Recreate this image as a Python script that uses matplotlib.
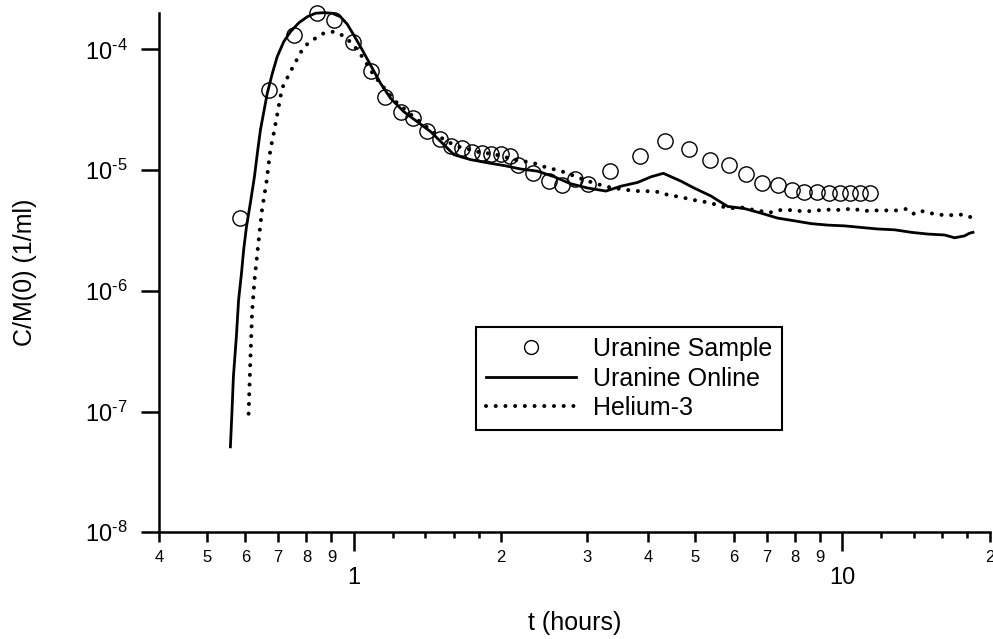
import matplotlib
matplotlib.use('Agg')
import matplotlib.pyplot as plt
from matplotlib.ticker import FixedLocator, FixedFormatter, NullLocator
from matplotlib.lines import Line2D

plt.rcParams['font.family'] = ['Liberation Sans', 'DejaVu Sans']
plt.rcParams['mathtext.fontset'] = 'custom'
plt.rcParams['mathtext.rm'] = 'Liberation Sans'
plt.rcParams['mathtext.it'] = 'Liberation Sans:italic'

# Uranine Sample (open circles)
sample_t = [0.584, 0.672, 0.755, 0.840, 0.910, 0.995, 1.082, 1.161, 1.251, 1.323,
            1.413, 1.50, 1.584, 1.663, 1.748, 1.833, 1.912, 1.998, 2.087, 2.168,
            2.331, 2.51, 2.668, 2.83, 3.01, 3.34, 3.85, 4.33, 4.86, 5.35,
            5.87, 6.35, 6.85, 7.37, 7.89, 8.36, 8.87, 9.38, 9.89, 10.37,
            10.87, 11.39]
sample_c = [4.0e-6, 4.6e-5, 1.31e-4, 2.01e-4, 1.76e-4, 1.14e-4, 6.6e-5, 4.0e-5, 3.0e-5, 2.7e-5,
            2.1e-5, 1.81e-5, 1.59e-5, 1.52e-5, 1.40e-5, 1.39e-5, 1.37e-5, 1.37e-5, 1.30e-5, 1.10e-5,
            9.5e-6, 8.1e-6, 7.5e-6, 8.5e-6, 7.7e-6, 9.8e-6, 1.30e-5, 1.74e-5, 1.50e-5, 1.22e-5,
            1.11e-5, 9.2e-6, 7.8e-6, 7.45e-6, 6.9e-6, 6.56e-6, 6.56e-6, 6.4e-6, 6.4e-6, 6.4e-6,
            6.4e-6, 6.4e-6]

# Uranine Online (solid line)
online_t = [0.559, 0.563, 0.567, 0.575, 0.581, 0.589, 0.595, 0.603, 0.614, 0.626,
            0.636, 0.644, 0.665, 0.681, 0.697, 0.719, 0.742, 0.772, 0.803, 0.835,
            0.868, 0.903, 0.939, 0.969, 1.0, 1.032, 1.082, 1.134, 1.189, 1.266,
            1.349, 1.436, 1.50, 1.603, 1.734, 1.876, 2.03, 2.196, 2.376, 2.57,
            2.78, 3.01, 3.28, 3.52, 3.81, 4.06, 4.30, 4.67, 4.97, 5.38,
            5.82, 6.30, 6.81, 7.37, 7.97, 8.63, 9.33, 10.1, 10.9, 11.82,
            12.79, 13.83, 14.96, 16.18, 16.97, 17.78, 18.2, 18.5]
online_c = [5.1e-8, 9.7e-8, 1.95e-7, 4.2e-7, 8.4e-7, 1.40e-6, 2.18e-6, 3.4e-6, 5.3e-6, 8.8e-6,
            1.47e-5, 2.15e-5, 4.32e-5, 6.3e-5, 8.7e-5, 1.16e-4, 1.40e-4, 1.66e-4, 1.86e-4, 1.99e-4,
            2.01e-4, 1.99e-4, 1.86e-4, 1.62e-4, 1.31e-4, 1.05e-4, 7.41e-5, 5.23e-5, 3.93e-5, 3.04e-5,
            2.51e-5, 2.08e-5, 1.75e-5, 1.34e-5, 1.22e-5, 1.15e-5, 1.09e-5, 1.02e-5, 9.8e-6, 8.8e-6,
            7.7e-6, 7.1e-6, 6.7e-6, 7.35e-6, 7.9e-6, 8.8e-6, 9.4e-6, 8.1e-6, 7.1e-6, 6.1e-6,
            5.0e-6, 4.8e-6, 4.4e-6, 4.0e-6, 3.8e-6, 3.6e-6, 3.5e-6, 3.45e-6, 3.35e-6, 3.25e-6,
            3.2e-6, 3.05e-6, 2.95e-6, 2.9e-6, 2.75e-6, 2.85e-6, 3.0e-6, 3.05e-6]

# Helium-3 (dotted)
helium_t = [0.609, 0.614, 0.619, 0.626, 0.639, 0.649, 0.663, 0.675, 0.686, 0.713,
            0.748, 0.790, 0.828, 0.868, 0.910, 0.954, 1.0, 1.04, 1.099, 1.208,
            1.327, 1.493, 1.573, 1.649, 1.729, 1.812, 1.90, 1.991, 2.068, 2.162,
            2.266, 2.376, 2.49, 2.618, 2.745, 2.877, 3.017, 3.177, 3.332, 3.49,
            3.66, 3.85, 4.04, 4.24, 4.42, 4.66, 4.88, 5.12, 5.36, 5.62,
            5.90, 6.18, 6.50, 6.81, 7.09, 7.37, 7.67, 7.97, 8.36, 8.76,
            9.18, 9.51, 9.94, 10.5, 11.01, 11.45, 11.91, 12.39, 12.99, 13.57,
            14.05, 14.61, 15.2, 15.81, 16.44, 17.1, 17.78, 18.5]
helium_c = [9.6e-8, 2.57e-7, 6.6e-7, 1.21e-6, 2.67e-6, 4.72e-6, 8.1e-6, 1.48e-5, 2.03e-5, 4.76e-5,
            6.97e-5, 1.05e-4, 1.21e-4, 1.36e-4, 1.40e-4, 1.29e-4, 1.08e-4, 8.7e-5, 6.1e-5, 3.8e-5,
            2.75e-5, 1.9e-5, 1.68e-5, 1.55e-5, 1.48e-5, 1.40e-5, 1.37e-5, 1.32e-5, 1.26e-5, 1.20e-5,
            1.17e-5, 1.12e-5, 1.04e-5, 1.0e-5, 9.36e-6, 8.67e-6, 8.09e-6, 7.59e-6, 7.21e-6, 7.0e-6,
            6.81e-6, 6.68e-6, 6.68e-6, 6.56e-6, 6.16e-6, 6.01e-6, 5.71e-6, 5.53e-6, 5.36e-6, 5.03e-6,
            4.81e-6, 4.93e-6, 4.72e-6, 4.57e-6, 4.43e-6, 4.66e-6, 4.66e-6, 4.66e-6, 4.52e-6, 4.63e-6,
            4.66e-6, 4.72e-6, 4.66e-6, 4.81e-6, 4.57e-6, 4.63e-6, 4.63e-6, 4.63e-6, 4.63e-6, 4.78e-6,
            4.3e-6, 4.57e-6, 4.38e-6, 4.27e-6, 4.21e-6, 4.27e-6, 4.27e-6, 4.0e-6]

# tick positions / labels
x_major = [1, 10]
x_major_labels = ['1', '10']
x_minor = [0.4, 0.5, 0.6, 0.7, 0.8, 0.9, 2, 3, 4, 5, 6, 7, 8, 9, 20]
x_minor_labels = ['4', '5', '6', '7', '8', '9', '2', '3', '4', '5', '6', '7', '8', '9', '2']
x_short = [1.2, 1.4, 1.6, 1.8, 12, 14, 16, 18]
y_ticks = [1e-8, 1e-7, 1e-6, 1e-5, 1e-4]
y_exp = ['-8', '-7', '-6', '-5', '-4']
y_labels = [r'$\mathregular{10^{\text{%s}}}$' % e for e in y_exp]

fig = plt.figure(figsize=(9.93, 6.39), dpi=100)
ax = fig.add_axes([0.1605, 0.167, 0.836, 0.8127])

dot_style = (0, (0.01, 2.4))
ax.plot(online_t, online_c, color='black', lw=2.0, zorder=3, clip_on=False)
ax.plot(helium_t, helium_c, color='black', lw=2.9, linestyle=dot_style,
        dash_capstyle='round', zorder=3, clip_on=False)
ax.plot(sample_t, sample_c, linestyle='none', marker='o', markersize=11,
        markerfacecolor='none', markeredgecolor='black', markeredgewidth=1.0,
        zorder=4, clip_on=False)

ax.set_xscale('log')
ax.set_yscale('log')
ax.set_xlim(0.4, 20)
ax.set_ylim(1e-8, 2.0e-4)

for s in ['top', 'right']:
    ax.spines[s].set_visible(False)
for s in ['left', 'bottom']:
    ax.spines[s].set_linewidth(1.8)

ax.xaxis.set_major_locator(FixedLocator(x_major))
ax.xaxis.set_major_formatter(FixedFormatter(x_major_labels))
ax.xaxis.set_minor_locator(FixedLocator(x_minor))
ax.xaxis.set_minor_formatter(FixedFormatter(x_minor_labels))
ax.tick_params(axis='x', which='major', length=13.7, width=1.8, labelsize=17, pad=11)
ax.tick_params(axis='x', which='minor', length=7.5, width=1.8, labelsize=12, pad=5)

sec = ax.secondary_xaxis('bottom')
sec.set_xticks(x_short)
sec.xaxis.set_minor_locator(NullLocator())
sec.tick_params(axis='x', length=4.5, width=1.8, labelbottom=False)
sec.spines['bottom'].set_visible(False)

ax.yaxis.set_major_locator(FixedLocator(y_ticks))
ax.yaxis.set_major_formatter(FixedFormatter(y_labels))
ax.yaxis.set_minor_locator(NullLocator())
ax.tick_params(axis='y', which='major', length=13, width=1.8, labelsize=17, pad=10)

ax.set_xlabel('t (hours)', fontsize=18)
ax.xaxis.set_label_coords(0.5, -0.1515)
ax.set_ylabel('C/M(0) (1/ml)', fontsize=18)
ax.yaxis.set_label_coords(-0.1475, 0.5)

handles = [
    Line2D([], [], linestyle='none', marker='o', markersize=10, markerfacecolor='none',
           markeredgecolor='black', markeredgewidth=1.0),
    Line2D([], [], color='black', lw=2.0),
    Line2D([], [], color='black', lw=2.9, linestyle=dot_style, dash_capstyle='round'),
]
leg = ax.legend(handles, ['Uranine Sample', 'Uranine Online', 'Helium-3'],
                loc='upper left', bbox_to_anchor=(0.382, 0.395), fontsize=18,
                frameon=True, fancybox=False, edgecolor='black', framealpha=1,
                handlelength=3.6, handletextpad=0.65, borderpad=0.4,
                labelspacing=0.22, borderaxespad=0)
leg.get_frame().set_linewidth(1.5)

fig.savefig('out.png', dpi=100)
